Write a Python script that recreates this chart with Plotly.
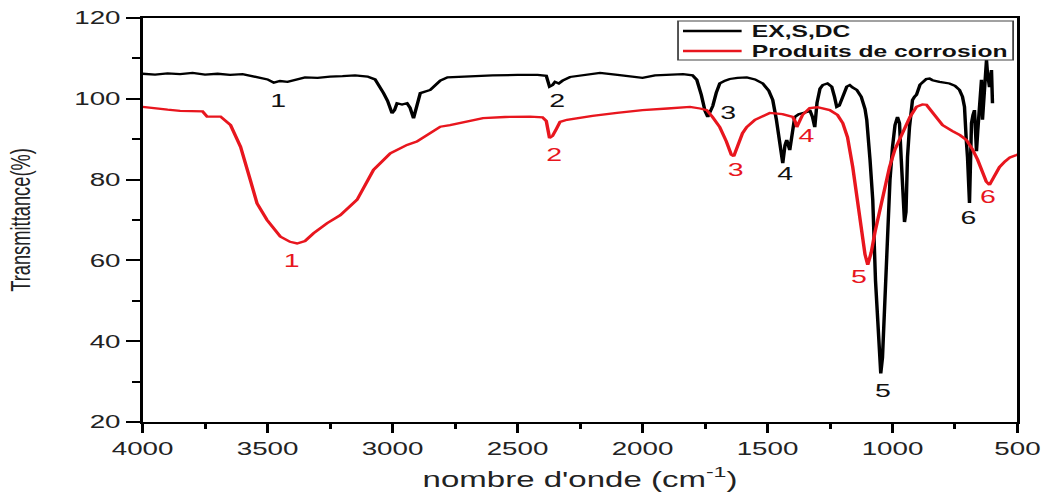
import plotly.graph_objects as go

# FTIR spectra: wavenumber (cm-1) and transmittance (%)
wn_exsdc = [4000, 3950, 3900, 3850, 3800, 3750, 3700, 3650, 3600, 3550, 3500, 3475, 3450,
            3420, 3390, 3350, 3300, 3250, 3200, 3150, 3100, 3070, 3036, 3020, 3002, 2992,
            2982, 2962, 2942, 2930, 2916, 2902, 2889, 2849, 2809, 2780, 2700, 2600, 2500,
            2420, 2385, 2372, 2360, 2350, 2335, 2320, 2290, 2200, 2170, 2100, 2050, 2000,
            1950, 1900, 1838, 1800, 1783, 1765, 1750, 1739, 1728, 1719, 1705, 1691, 1670,
            1651, 1620, 1583, 1550, 1519, 1495, 1479, 1465, 1451, 1439, 1430, 1423, 1411,
            1400, 1391, 1375, 1359, 1340, 1331, 1320, 1311, 1302, 1290, 1279, 1260, 1243,
            1232, 1223, 1213, 1203, 1190, 1183, 1171, 1160, 1143, 1125, 1110, 1103, 1090,
            1079, 1068, 1058, 1047, 1040, 1035, 1025, 1018, 1010, 1000, 990, 980, 972, 965,
            958, 952, 946, 940, 932, 920, 912, 904, 890, 880, 865, 852, 840, 812, 790, 772,
            750, 732, 720, 712, 705, 700, 692, 687, 684, 678, 672, 668, 664, 659, 652, 644,
            640, 632, 624, 620, 616, 612, 608, 604, 600]
tr_exsdc = [106.2, 106.0, 106.3, 106.1, 106.4, 106.0, 106.2, 105.9, 106.1, 105.4, 104.8, 104.0, 104.4,
            104.2, 104.7, 105.3, 105.2, 105.5, 105.6, 105.8, 105.5, 104.8, 101.4, 99.5, 96.4, 97.2,
            98.9, 98.6, 98.9, 97.8, 95.2, 99.0, 101.4, 102.2, 104.5, 105.3, 105.6, 105.8, 105.9,
            105.9, 105.7, 103.0, 103.4, 104.2, 103.8, 104.5, 105.4, 106.2, 106.4, 105.9, 105.6, 105.2,
            105.8, 106.0, 106.1, 105.8, 104.7, 101.0, 97.0, 95.5, 97.0, 98.2, 101.5, 103.8, 104.5,
            104.9, 105.2, 105.3, 104.8, 103.8, 102.0, 99.7, 95.0, 89.8, 84.1, 88.5, 89.8, 87.3,
            92.0, 95.5, 96.2, 96.5, 96.8, 97.2, 95.5, 93.0, 99.0, 102.5, 103.4, 103.8, 103.0,
            100.5, 98.0, 98.3, 99.7, 102.0, 103.0, 103.4, 102.8, 102.2, 100.5, 97.5, 94.8, 85.0,
            75.0, 55.0, 42.0, 32.0, 36.0, 44.5, 54.4, 68.0, 80.0, 88.0, 93.5, 95.5, 94.0, 85.0,
            73.0, 69.5, 72.0, 85.6, 93.0, 99.7, 100.5, 101.0, 103.5, 104.2, 104.9, 105.0, 104.6, 104.2, 104.0, 103.8,
            103.2, 102.2, 100.5, 98.0, 90.0, 85.6, 74.2, 85.0, 94.0, 96.0, 97.2, 92.0, 87.0, 92.0, 97.2, 104.7,
            94.8, 101.0, 109.6, 106.4, 104.0, 102.9, 105.0, 107.1, 98.9]

wn_corr = [4000, 3950, 3900, 3850, 3781, 3760, 3742, 3688, 3648, 3608, 3569, 3542, 3502, 3449,
           3410, 3382, 3350, 3316, 3262, 3209, 3142, 3076, 3009, 2942, 2903, 2849, 2809, 2770,
           2700, 2638, 2550, 2450, 2400, 2385, 2372, 2360, 2345, 2330, 2302, 2200, 2102, 2000,
           1900, 1838, 1810, 1770, 1743, 1720, 1691, 1665, 1645, 1635, 1620, 1600, 1583, 1550,
           1491, 1440, 1399, 1390, 1383, 1375, 1360, 1331, 1300, 1251, 1220, 1199, 1180, 1159,
           1140, 1125, 1110, 1099, 1085, 1070, 1051, 1030, 1012, 990, 960, 930, 904, 880, 864,
           840, 820, 800, 760, 730, 704, 680, 660, 640, 625, 612, 600, 590, 572, 550, 530, 504, 500]
tr_corr = [98.0, 97.6, 97.3, 97.0, 96.8, 96.9, 95.6, 95.6, 93.5, 88.1, 79.9, 74.1, 70.0, 65.9,
           64.6, 64.2, 64.8, 66.7, 69.2, 71.2, 75.0, 82.4, 86.5, 88.6, 89.4, 91.5, 93.1, 93.5,
           94.5, 95.2, 95.5, 95.6, 95.4, 94.5, 90.3, 90.8, 92.5, 94.3, 94.8, 95.8, 96.5, 97.2,
           97.6, 98.0, 98.0, 97.6, 97.2, 95.5, 93.0, 89.5, 86.2, 85.8, 88.5, 91.5, 93.0, 94.8,
           96.5, 96.2, 95.5, 94.5, 93.0, 94.2, 96.0, 97.7, 97.9, 97.2, 96.0, 94.0, 90.5, 83.1,
           75.0, 67.5, 61.5, 58.9, 62.0, 67.0, 72.5, 78.0, 83.1, 87.5, 91.5, 95.5, 98.0, 98.6, 98.5,
           96.5, 94.8, 93.5, 92.0, 91.0, 89.8, 87.5, 85.0, 81.6, 79.5, 78.7, 80.0, 81.5, 83.1, 84.5, 85.5, 86.1, 86.2]

series_names = ["EX,S,DC", "Produits de corrosion"]

# Band labels (number, wavenumber, transmittance) for each spectrum
band_num = ["1", "2", "3", "4", "5", "6"]
lbl_exsdc_wn = [3457, 2338, 1655, 1427, 1036, 696]
lbl_exsdc_tr = [99.7, 99.5, 96.5, 81.4, 27.7, 70.5]
lbl_corr_wn = [3401, 2354, 1627, 1343, 1131, 616]
lbl_corr_tr = [60.1, 86.3, 82.6, 91.0, 56.1, 75.7]

x_ticks = [4000, 3500, 3000, 2500, 2000, 1500, 1000, 500]
y_ticks = [20, 40, 60, 80, 100, 120]

BLACK = "#000000"
RED = "#e8161e"
FONT = "Liberation Sans, Arial, sans-serif"
LINE_W = 2.3

# the figure is laid out at a narrower width and stretched horizontally on the page
PAGE_W, PAGE_H = 1046, 497
FIG_W = 697
SX = PAGE_W / FIG_W

fig = go.Figure()
fig.add_trace(go.Scatter(x=wn_exsdc, y=tr_exsdc, mode="lines", name=series_names[0],
                         line=dict(color=BLACK, width=LINE_W)))
fig.add_trace(go.Scatter(x=wn_corr, y=tr_corr, mode="lines", name=series_names[1],
                         line=dict(color=RED, width=LINE_W)))

for t, xw, yv in zip(band_num, lbl_exsdc_wn, lbl_exsdc_tr):
    fig.add_annotation(x=xw, y=yv, text=t, showarrow=False,
                       font=dict(family=FONT, size=19, color="#111111"))
for t, xw, yv in zip(band_num, lbl_corr_wn, lbl_corr_tr):
    fig.add_annotation(x=xw, y=yv, text=t, showarrow=False,
                       font=dict(family=FONT, size=19, color=RED))

# boxed key in the upper right corner of the plot area
key_box = dict(x0=0.612, x1=0.995, y0=0.896, y1=0.9926)
key_rows = [0.9678, 0.9183]
key_colors = [BLACK, RED]
fig.add_shape(type="rect", xref="paper", yref="paper", layer="above",
              line=dict(color="#444444", width=1.2), fillcolor="white", **key_box)
for name, yrow, col in zip(series_names, key_rows, key_colors):
    fig.add_shape(type="line", xref="paper", yref="paper", layer="above",
                  x0=0.6177, x1=0.6847, y0=yrow, y1=yrow,
                  line=dict(color=col, width=LINE_W))
    fig.add_annotation(xref="paper", yref="paper", x=0.6925, y=yrow, text=name,
                       showarrow=False, xanchor="left", yanchor="middle",
                       font=dict(family=FONT, size=16.4, color="#111111", weight="bold"))

axis_common = dict(showgrid=False, zeroline=False, showline=True, linecolor="black",
                   linewidth=2, mirror=True, ticks="outside", ticklen=9, tickwidth=1.5,
                   tickcolor="black", tickfont=dict(family=FONT, size=18.5, color="#222222"))

fig.update_xaxes(range=[4000, 500], tickvals=x_ticks,
                 minor=dict(dtick=250, ticks="outside", ticklen=5, tickwidth=1.5, tickcolor="black"),
                 title=dict(text="nombre d'onde (cm<sup>-1</sup>)", standoff=13,
                            font=dict(family=FONT, size=22, color="#222222")),
                 **axis_common)
fig.update_yaxes(range=[20, 120], tickvals=y_ticks,
                 minor=dict(dtick=10, ticks="outside", ticklen=5, tickwidth=1.5, tickcolor="black"),
                 title=dict(text="Transmittance(%)", standoff=24,
                            font=dict(family=FONT, size=18.3, color="#222222")),
                 **axis_common)

fig.update_layout(
    width=FIG_W, height=PAGE_H,
    margin=dict(l=95, r=19, t=18, b=75, autoexpand=False),
    paper_bgcolor="white", plot_bgcolor="white",
    showlegend=False,
)

stretch_js = (
    "document.body.style.margin='0';"
    "var gd=document.getElementById('{plot_id}');"
    "gd.style.transformOrigin='0 0';"
    "gd.style.transform='scaleX(" + repr(SX) + ")';"
)

fig.write_html("out.html", post_script=stretch_js)
